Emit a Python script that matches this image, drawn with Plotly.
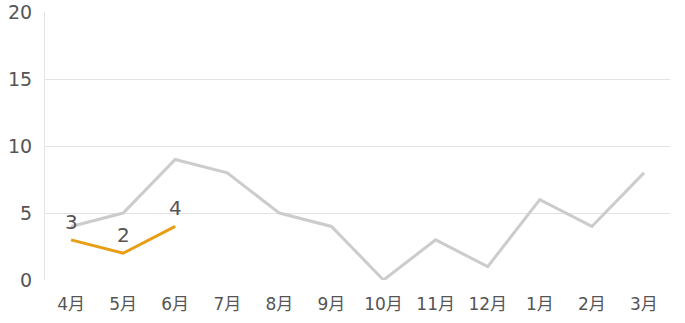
import plotly.graph_objects as go

months = ["4月", "5月", "6月", "7月", "8月", "9月", "10月", "11月", "12月", "1月", "2月", "3月"]
prev_values = [4, 5, 9, 8, 5, 4, 0, 3, 1, 6, 4, 8]
curr_months = ["4月", "5月", "6月"]
curr_values = [3, 2, 4]
y_ticks = [0, 5, 10, 15, 20]

FONT = "DejaVu Sans, Noto Sans CJK JP"
TXT = "#555555"

fig = go.Figure()
fig.add_trace(go.Scatter(x=months, y=prev_values, mode="lines",
                         line=dict(color="#cccccc", width=3), hoverinfo="skip"))
fig.add_trace(go.Scatter(x=curr_months, y=curr_values, mode="lines",
                         line=dict(color="#e89e14", width=3)))

for m, v in zip(curr_months, curr_values):
    fig.add_annotation(x=m, y=v, text=str(v), showarrow=False, yanchor="bottom",
                       yshift=4, font=dict(family=FONT, size=20, color=TXT))

fig.update_layout(
    width=685, height=323,
    margin=dict(l=45, r=15, t=12, b=43),
    paper_bgcolor="white", plot_bgcolor="white",
    showlegend=False,
    font=dict(family=FONT, color=TXT),
    xaxis=dict(type="category", categoryorder="array", categoryarray=months,
               range=[-0.5, 11.5], automargin=False,
               showgrid=False, zeroline=False, showline=False,
               tickfont=dict(family=FONT, size=17, color=TXT), ticks="", ticklen=0,
               ticklabelstandoff=12),
    yaxis=dict(range=[0, 20.02], tickvals=y_ticks, showgrid=True, gridcolor="#e3e3e3",
               gridwidth=1, zeroline=False, showline=True, linecolor="#e3e3e3",
               automargin=False,
               tickfont=dict(family=FONT, size=19, color=TXT), ticks="", ticklabelstandoff=8),
)

fig.write_html("out.html")
